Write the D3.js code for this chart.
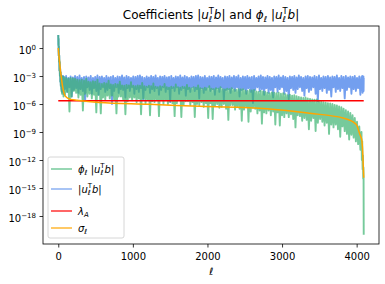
<!DOCTYPE html>
<html>
<head>
<meta charset="utf-8">
<script src="https://cdn.jsdelivr.net/npm/d3@7"></script>
<style>
  body { margin: 0; background: #fff; }
  text { font-family: "DejaVu Sans", sans-serif; fill: #000; }
</style>
</head>
<body>
<svg id="chart"></svg>
<script>
'use strict';

const WIDTH = 385;
const HEIGHT = 284;
const M = {left: 43, right: 379, top: 26, bottom: 244};

// sample index l (x axis)
const ellHead = [0, 2, 4, 6, 8, 10, 13, 16, 19, 22, 25, 28, 31, 34, 38, 42, 46, 50, 55, 60, 65, 70];
const ellBody = d3.range(75, 4066, 15);
const ellTail = [4070, 4075, 4080, 4085, 4088, 4091, 4093, 4095];
const ell = ellHead.concat(ellBody, ellTail);

// log10 |u_l^T b|
const blueLog = [
    1.4, 0.3, 1.0, -0.8, 0.2, -1.5, -0.8, -2.4, -1.5, -3.0, -2.2, -3.6, -2.6, -4.0, -2.9, -4.4, -3.0, -4.7, -3.1, -4.3, -3.0, -4.9,
    -3.1, -4.4, -3.0, -4.7, -3.2, -4.2, -3.05, -5.2, -3.15, -4.5,
    -3.0, -4.3, -3.1, -4.8, -2.95, -4.4, -3.2, -4.6, -3.1, -5.7,
    -3.05, -4.2, -3.15, -4.5, -3.0, -4.9, -3.2, -4.3, -3.1, -4.6,
    -2.95, -5.0, -3.1, -4.4, -3.05, -4.2, -3.2, -4.7, -3.0, -4.5,
    -3.15, -4.3, -3.1, -6.0, -3.0, -4.6, -3.2, -4.2, -3.05, -4.8,
    -3.1, -4.4, -2.95, -4.5, -3.15, -5.3, -3.0, -4.3, -3.1, -4.6,
    -3.2, -4.2, -3.05, -4.9, -3.1, -4.4, -3.0, -4.7, -2.95, -4.3,
    -3.1, -5.5, -3.2, -4.5, -3.05, -4.2, -3.15, -4.8, -3.0, -4.4,
    -3.1, -4.6, -2.95, -4.3, -3.2, -5.0, -3.05, -4.5, -3.1, -4.2,
    -3.0, -4.7, -3.15, -4.4, -3.1, -5.8, -3.0, -4.3, -3.2, -4.6,
    -3.05, -4.2, -3.1, -4.9, -2.95, -4.5, -3.15, -4.3, -3.0, -5.1,
    -3.1, -4.4, -3.2, -4.7, -3.05, -4.2, -3.1, -4.6, -3.0, -4.4,
    -2.95, -5.4, -3.1, -4.3, -3.15, -4.8, -3.0, -4.5, -3.2, -4.2,
    -3.05, -4.6, -3.1, -4.4, -3.0, -5.0, -3.15, -4.3, -2.95, -4.7,
    -3.1, -4.2, -3.2, -5.6, -3.05, -4.5, -3.1, -4.4, -3.0, -4.8,
    -3.15, -4.3, -3.0, -4.6, -3.1, -4.2, -2.95, -5.2, -3.2, -4.5,
    -3.05, -4.4, -3.1, -4.9, -3.0, -4.3, -3.15, -4.7, -3.1, -5.9,
    -3.0, -4.5, -3.2, -4.2, -3.05, -4.6, -2.95, -4.4, -3.1, -5.0,
    -3.15, -4.3, -3.0, -4.8, -3.1, -4.5, -3.2, -5.3, -3.05, -4.2,
    -3.1, -4.7, -2.95, -4.4, -3.15, -4.2, -3.0, -4.9, -3.1, -4.6,
    -3.2, -5.5, -3.05, -4.3, -3.1, -4.5, -3.0, -4.8, -3.15, -4.4,
    -2.95, -4.2, -3.1, -4.6, -3.2, -5.1, -3.05, -4.3, -3.0, -4.7,
    -3.1, -4.5, -3.15, -4.2, -3.0, -4.9, -3.1, -5.7, -2.95, -4.4,
    -3.2, -4.6, -3.05, -4.3, -3.1, -4.8, -3.0, -4.5, -3.15, -5.2,
    -3.05, -4.2, -3.1, -4.7, -2.95, -4.4, -3.2, -4.6, -3.0, -4.3,
    -3.1, -5.4, -3.0, -4.5, -3.15, -4.2, -3.05, -4.9, -3.1, -4.4,
    -3.0, -4.6, -3.2, -4.3, -3.05, -5.0, -3.1,
    -4.5, -3.0, -4.8, -3.2, -4.4, -3.05, -4.6, -3.2
];

// log10 phi_l |u_l^T b|
const greenLog = [
    1.4, 0.3, 1.0, -0.8, 0.2, -1.5, -0.8, -2.4, -1.5, -3.0, -2.2, -3.6, -2.6, -4.1, -2.9, -4.6, -3.0, -4.9, -3.1, -4.6, -3.1, -5.2,
    -3.1, -5.0, -3.2, -4.7, -3.3, -6.8, -3.2, -5.2, -3.25, -4.6,
    -3.3, -4.8, -3.4, -5.3, -3.45, -5.0, -3.4, -6.7, -3.5, -4.9,
    -3.3, -5.2, -3.6, -4.9, -3.65, -5.4, -3.55, -5.0, -3.6, -6.9,
    -3.4, -5.0, -3.8, -7.0, -3.85, -5.3, -3.75, -5.5, -3.8, -5.1,
    -3.5, -5.4, -3.9, -5.1, -3.95, -5.6, -3.85, -7.0, -3.9, -5.2,
    -3.6, -5.2, -4.0, -5.5, -4.05, -7.1, -3.95, -5.7, -4.0, -5.3,
    -3.65, -5.6, -4.05, -5.3, -4.1, -5.8, -4.0, -5.4, -4.05, -7.1,
    -3.75, -5.4, -4.1, -5.9, -4.15, -5.5, -4.05, -7.2, -4.1, -5.7,
    -3.8, -5.8, -4.15, -5.5, -4.2, -7.3, -4.1, -5.6, -4.15, -6.0,
    -3.85, -5.6, -4.2, -6.0, -4.25, -5.7, -4.15, -5.9, -4.2, -7.3,
    -3.9, -5.9, -4.2, -5.6, -4.25, -7.4, -4.15, -6.1, -4.2, -5.7,
    -3.95, -5.7, -4.25, -6.1, -4.3, -5.8, -4.2, -7.4, -4.25, -6.0,
    -4.0, -6.1, -4.3, -5.8, -4.35, -6.3, -4.25, -5.9, -4.3, -7.5,
    -4.1, -5.9, -4.35, -7.6, -4.4, -6.2, -4.3, -6.0, -4.35, -6.4,
    -4.2, -6.3, -4.4, -6.0, -4.45, -6.5, -4.35, -7.7, -4.4, -6.1,
    -4.3, -6.1, -4.45, -6.6, -4.5, -6.3, -4.4, -6.5, -4.45, -7.8,
    -4.4, -6.6, -4.55, -6.3, -4.6, -7.9, -4.5, -6.8, -4.55, -6.4,
    -4.5, -6.5, -4.65, -7.0, -4.7, -6.7, -4.6, -8.1, -4.65, -6.9,
    -4.7, -7.0, -4.8, -6.7, -4.85, -7.2, -4.75, -6.8, -4.8, -8.2,
    -4.85, -6.9, -4.8, -8.3, -4.9, -7.2, -4.85, -7.4, -4.95, -7.0,
    -5.05, -7.4, -5.0, -7.1, -5.1, -7.6, -5.05, -8.5, -5.15, -7.2,
    -5.25, -7.3, -5.3, -7.8, -5.35, -7.5, -5.3, -7.7, -5.4, -8.7,
    -5.45, -7.8, -5.5, -7.5, -5.55, -8.9, -5.5, -8.0, -5.65, -7.6,
    -5.7, -7.9, -5.8, -8.3, -5.85, -8.0, -5.9, -9.2, -5.95, -8.2,
    -6.0, -8.5, -6.1, -8.2, -6.15, -8.7, -6.25, -9.5, -6.35, -8.4,
    -6.5, -8.9, -6.65, -9.2, -6.8, -9.8, -6.95, -9.3, -7.2, -9.6,
    -7.5, -10.0, -7.9, -10.3, -8.4, -10.9, -9.0,
    -12.0, -10.0, -13.0, -11.5, -14.0, -12.8, -13.9, -20.0
];

// sigma_l (smooth)
const sigmaEll = [0, 5, 10, 15, 20, 30, 40, 50, 60, 70, 80, 90, 100, 130, 170, 250, 550, 1223, 1900, 2800, 3374, 3817, 3978, 4000, 4045, 4068, 4080, 4088, 4095];
const sigmaLog = [0.0, -0.5, -0.9, -1.3, -1.7, -2.5, -3.1, -3.7, -4.2, -4.6, -4.9, -5.1, -5.2, -5.4, -5.5, -5.6, -5.85, -6.03, -6.25, -6.5, -7.0, -7.5, -8.07, -8.25, -9.3, -9.8, -11.0, -12.5, -13.9];

// lambda_A (constant)
const lambdaEll = [0, 4095];
const lambdaLog = [-5.65, -5.65];

const yTicks = [0, -3, -6, -9, -12, -15, -18];
const xTicks = [0, 1000, 2000, 3000, 4000];

const COLOR = {
    green: '#3CB371',
    blue: '#6495ED',
    red: '#FF0000',
    orange: '#FFA500'
};

const svg = d3.select('#chart').attr('width', WIDTH).attr('height', HEIGHT);

const x = d3.scaleLinear().domain([-204.75, 4299.75]).range([M.left, M.right]);
const y = d3.scaleLog().domain([1e-21, Math.pow(10, 2.36)]).range([M.bottom, M.top]);

// math-ish text: parts are [string, kind]
function mathText(t, parts, size) {
    let shift = 0;
    parts.forEach(function(p) {
        let s = p[0], k = p[1];
        let ts = t.append('tspan').text(s);
        let target = 0, fs = size, italic = false, dx = 0;
        if (k == 'i') { italic = true; }
        if (k == 'sub') { target = 0.22 * size; fs = 0.7 * size; italic = true; }
        if (k == 'sup') { target = -0.42 * size; fs = 0.7 * size; dx = p[2] || 0; }
        if (k == 'supn') { target = -0.42 * size; fs = 0.7 * size; }
        ts.attr('font-size', fs).attr('font-style', italic ? 'italic' : 'normal');
        if (target - shift != 0) ts.attr('dy', target - shift);
        if (dx) ts.attr('dx', dx);
        shift = target;
    });
    if (shift != 0) t.append('tspan').attr('dy', -shift).text('');
}

const uTb = function(size) {
    return [['|', 'n'], ['u', 'i'], ['ℓ', 'sub'], ['T', 'sup', -0.3 * size], ['b', 'i'], ['|', 'n']];
};

// series
const line = d3.line()
    .x(function(d) { return x(d[0]); })
    .y(function(d) { return y(Math.pow(10, d[1])); });

const plot = svg.append('g');

plot.append('path')
    .datum(d3.zip(ell, blueLog))
    .attr('d', line)
    .attr('fill', 'none')
    .attr('stroke', COLOR.blue)
    .attr('stroke-opacity', 0.9)
    .attr('stroke-width', 1.9)
    .attr('stroke-linejoin', 'round');

plot.append('path')
    .datum(d3.zip(ell, greenLog))
    .attr('d', line)
    .attr('fill', 'none')
    .attr('stroke', COLOR.green)
    .attr('stroke-opacity', 0.7)
    .attr('stroke-width', 1.9)
    .attr('stroke-linejoin', 'round');

plot.append('path')
    .datum(d3.zip(lambdaEll, lambdaLog))
    .attr('d', line)
    .attr('fill', 'none')
    .attr('stroke', COLOR.red)
    .attr('stroke-width', 1.5);

const smooth = d3.line()
    .x(function(d) { return x(d[0]); })
    .y(function(d) { return y(Math.pow(10, d[1])); })
    .curve(d3.curveMonotoneX);

plot.append('path')
    .datum(d3.zip(sigmaEll, sigmaLog))
    .attr('d', smooth)
    .attr('fill', 'none')
    .attr('stroke', COLOR.orange)
    .attr('stroke-width', 1.5);

// axes
const xAxis = svg.append('g')
    .attr('transform', 'translate(0,' + M.bottom + ')')
    .call(d3.axisBottom(x).tickValues(xTicks).tickSize(3.5).tickPadding(3.5).tickFormat(d3.format('d')));
const yAxis = svg.append('g')
    .attr('transform', 'translate(' + M.left + ',0)')
    .call(d3.axisLeft(y).tickValues(yTicks.map(function(e) { return Math.pow(10, e); })).tickSize(3.5).tickPadding(3.5));

[xAxis, yAxis].forEach(function(a) {
    a.select('.domain').remove();
    a.selectAll('line').attr('stroke', '#000').attr('stroke-width', 0.8);
    a.selectAll('text').attr('font-size', 10).attr('font-family', '"DejaVu Sans", sans-serif');
});
xAxis.selectAll('text').attr('dy', '0.85em');

yAxis.selectAll('text').each(function(d, i) {
    let t = d3.select(this);
    t.text('');
    let e = yTicks[i];
    mathText(t, [['10', 'n'], [(e < 0 ? '\u2212' : '') + Math.abs(e), 'supn']], 10);
});
yAxis.selectAll('text').attr('dy', '0.55em');

// frame
svg.append('rect')
    .attr('x', M.left).attr('y', M.top)
    .attr('width', M.right - M.left).attr('height', M.bottom - M.top)
    .attr('fill', 'none').attr('stroke', '#000').attr('stroke-width', 0.8);

// title
const title = svg.append('text')
    .attr('x', (M.left + M.right) / 2).attr('y', 19)
    .attr('text-anchor', 'middle').attr('font-size', 12);
mathText(title, [['Coefficients ', 'n']].concat(uTb(12), [[' and ', 'n'], ['ϕ', 'i'], ['ℓ', 'sub'], [' ', 'n']], uTb(12)), 12);

// x label
svg.append('text')
    .attr('x', (M.left + M.right) / 2).attr('y', 275)
    .attr('text-anchor', 'middle').attr('font-size', 10).attr('font-style', 'italic')
    .text('ℓ');

// legend
const legendItems = [
    {c: COLOR.green, o: 0.7, parts: [['ϕ', 'i'], ['ℓ', 'sub'], [' ', 'n']].concat(uTb(10))},
    {c: COLOR.blue, o: 0.75, parts: uTb(10)},
    {c: COLOR.red, o: 0.8, parts: [['λ', 'i'], ['A', 'sub']]},
    {c: COLOR.orange, o: 0.8, parts: [['σ', 'i'], ['ℓ', 'sub']]}
];
const legendY = [169, 189, 211, 228];

const lg = svg.append('g');
lg.append('rect')
    .attr('x', 48).attr('y', 157).attr('width', 76).attr('height', 81)
    .attr('rx', 2).attr('fill', '#fff').attr('fill-opacity', 0.8)
    .attr('stroke', '#ccc').attr('stroke-width', 0.8);

legendItems.forEach(function(it, i) {
    let yy = legendY[i];
    lg.append('line')
        .attr('x1', 51).attr('x2', 72).attr('y1', yy).attr('y2', yy)
        .attr('stroke', it.c).attr('stroke-opacity', it.o).attr('stroke-width', 1.5);
    let t = lg.append('text').attr('x', 78).attr('y', yy + 3.5).attr('font-size', 10);
    mathText(t, it.parts, 10);
});
</script>
</body>
</html>
